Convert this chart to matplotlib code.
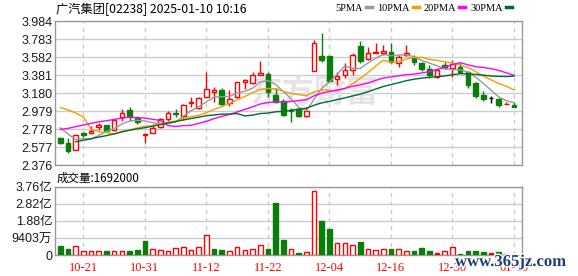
import numpy as np
import pandas as pd
import matplotlib
matplotlib.use("Agg")
import matplotlib.pyplot as plt
import matplotlib.patheffects as pe
from matplotlib.patches import Rectangle
from matplotlib.lines import Line2D

plt.rcParams['font.family'] = ['Liberation Sans', 'Noto Sans CJK SC', 'DejaVu Sans']

# 标题
title = "广汽集团[02238] 2025-01-10 10:16"
vol_title = "成交量:1692000"

# 日K数据 (2024-10-16 .. 2025-01-10)
opens = [2.673, 2.617, 2.539, 2.729, 2.729, 2.797, 2.819, 2.767, 2.909, 2.991,
         2.906, 2.710, 2.729, 2.804, 2.890, 2.961, 2.927, 3.065, 3.009, 3.132,
         3.192, 3.215, 3.065, 3.132, 3.308, 3.289, 3.386, 3.392, 3.159, 3.096,
         2.991, 2.998, 2.927, 3.431, 3.595, 3.595, 3.342, 3.383, 3.439, 3.707,
         3.558, 3.630, 3.625, 3.636, 3.521, 3.603, 3.588, 3.513, 3.446, 3.364,
         3.495, 3.457, 3.476, 3.420, 3.297, 3.159, 3.121, 3.114, 3.055, 3.047]
highs = [2.692, 2.673, 2.718, 2.748, 2.811, 2.841, 2.826, 2.894, 3.002, 3.021,
         2.924, 2.729, 2.830, 2.905, 2.976, 3.006, 3.054, 3.132, 3.140, 3.420,
         3.253, 3.237, 3.215, 3.308, 3.337, 3.420, 3.543, 3.420, 3.236, 3.110,
         3.010, 3.006, 3.021, 3.775, 3.849, 3.595, 3.420, 3.521, 3.633, 3.767,
         3.700, 3.737, 3.718, 3.737, 3.607, 3.718, 3.607, 3.532, 3.495, 3.446,
         3.532, 3.551, 3.521, 3.431, 3.308, 3.207, 3.147, 3.121, 3.084, 3.084]
lows = [2.606, 2.513, 2.539, 2.692, 2.722, 2.767, 2.752, 2.759, 2.868, 2.872,
        2.830, 2.625, 2.729, 2.793, 2.872, 2.916, 2.879, 3.028, 2.998, 3.132,
        3.084, 3.036, 3.039, 3.121, 3.226, 3.278, 3.383, 3.140, 3.073, 2.924,
        2.860, 2.916, 2.916, 3.431, 3.532, 3.308, 3.271, 3.345, 3.383, 3.521,
        3.551, 3.630, 3.607, 3.513, 3.476, 3.595, 3.495, 3.431, 3.345, 3.345,
        3.446, 3.364, 3.409, 3.233, 3.121, 3.096, 3.065, 3.021, 3.055, 3.021]
closes = [2.617, 2.535, 2.711, 2.714, 2.756, 2.819, 2.756, 2.879, 2.961, 2.924,
          2.861, 2.718, 2.785, 2.886, 2.954, 2.946, 3.043, 3.084, 3.121, 3.222,
          3.215, 3.054, 3.110, 3.300, 3.330, 3.383, 3.401, 3.189, 3.084, 2.935,
          2.980, 2.924, 2.983, 3.737, 3.551, 3.319, 3.371, 3.439, 3.607, 3.543,
          3.625, 3.640, 3.651, 3.532, 3.588, 3.633, 3.532, 3.446, 3.383, 3.439,
          3.457, 3.502, 3.420, 3.271, 3.147, 3.110, 3.121, 3.047, 3.058, 3.028]

# 窗口之前的收盘价 (用于均线起点, 由均线位置估计)
pre_close = [2.22, 2.24, 2.25, 2.27, 2.29, 2.31, 2.36, 2.412,
             2.30, 2.32, 2.35, 2.40, 2.45, 2.52, 2.60, 2.66, 2.735,
             2.95,
             2.80, 3.06, 3.16, 4.10, 3.12, 2.88, 3.02, 2.66, 2.78]

# 成交量 (万股)
volumes = [4949, 3299, 4766, 2200, 2200, 2200, 2200, 2200, 2200, 2200,
           2750, 7700, 3116, 2566, 2016, 3666, 4216, 2750, 4400, 10998,
           3299, 2750, 2200, 4216, 2750, 3299, 5316, 3299, 28595, 8249,
           3299, 1283, 1650, 35194, 18697, 14297, 6599, 6599, 5499, 7332,
           3116, 2566, 3116, 3299, 3116, 2200, 2383, 3849, 2383, 1283,
           2200, 4216, 733, 2383, 2383, 1833, 1100, 1650, 550, 169.2]
# g=跌(实心绿) r=涨(空心红) R=实心红
vol_kind = list("ggrrrrgrrg" "ggrrrrrrrr" "ggrrrrrggg" "rgrrggrrrg" "rrrgrrgggR" "rrggggRgRg")

price_ticks = [2.376, 2.577, 2.778, 2.979, 3.180, 3.381, 3.582, 3.783, 3.984]
vol_ticks = [0, 9403, 18806, 28209, 37612]
vol_tick_labels = ["0", "9403万", "1.88亿", "2.82亿", "3.76亿"]
date_idx = [3, 11, 19, 27, 35, 43, 51, 59]
date_labels = ["10-21", "10-31", "11-12", "11-22", "12-04", "12-16", "12-30", "01-10"]

ma_names = ["5PMA", "10PMA", "20PMA", "30PMA"]
ma_windows = [5, 10, 20, 30]
ma_colors = ["#999999", "#f0a000", "#ff00ff", "#006a30"]

RED = "#ff0000"
GREEN = "#0a7d0a"
GRID = "#cccccc"
FRAME = "#999999"

n = len(closes)
x = np.arange(n)
all_close = pd.Series(pre_close + closes)

fig = plt.figure(figsize=(5.78, 2.76), dpi=100)
W, H = 578, 276
ax = fig.add_axes([55 / W, 1 - 165 / H, 467 / W, (165 - 21.3) / H])
axv = fig.add_axes([55 / W, 1 - 255 / H, 467 / W, (255 - 186.7) / H])

for a in (ax, axv):
    a.set_xlim(-0.69, 60.04)
    a.set_axisbelow(True)
    a.set_xticks(date_idx)
    a.grid(axis="y", color=GRID, lw=1, ls="-")
    a.grid(axis="x", color=GRID, lw=1, ls=(0, (3, 3)))
    for s in a.spines.values():
        s.set_color(FRAME)
        s.set_linewidth(1)
    a.tick_params(length=0, pad=2, labelsize=9, colors="#1a1a1a")

# 蜡烛图
w = 0.6
for i in x:
    o, h, l, c = opens[i], highs[i], lows[i], closes[i]
    if c > o:
        col, face = RED, "white"
    elif c < o:
        col, face = GREEN, GREEN
    else:
        col, face = "black", "black"
    ax.vlines(i, l, h, color=col, lw=1, zorder=2)
    if c == o:
        ax.hlines(o, i - w / 2, i + w / 2, color=col, lw=1, zorder=3)
    else:
        ax.add_patch(Rectangle((i - w / 2, min(o, c)), w, abs(c - o),
                               facecolor=face, edgecolor=col, lw=1, zorder=3))

# 均线
for name, win, col in zip(ma_names, ma_windows, ma_colors):
    ma = all_close.rolling(win).mean().to_numpy()[-n:]
    ax.plot(x, ma, color=col, lw=1, zorder=4)

ax.set_ylim(price_ticks[0], price_ticks[-1])
ax.set_yticks(price_ticks)
ax.set_yticklabels([f"{t:.3f}" for t in price_ticks])
ax.tick_params(axis="x", labelbottom=False)

ax.text(0.555, 0.50, "东方财富", transform=ax.transAxes, ha="center", va="center",
        fontsize=23, fontweight="bold", color="#e4e4e4", zorder=1,
        family=["Noto Sans CJK SC"])

# 成交量
faces = [GREEN if k == "g" else (RED if k == "R" else "white") for k in vol_kind]
edges = [GREEN if k == "g" else RED for k in vol_kind]
axv.bar(x, volumes, width=w, color=faces, edgecolor=edges, lw=1, zorder=3)
axv.set_ylim(0, vol_ticks[-1])
axv.set_yticks(vol_ticks)
axv.set_yticklabels(vol_tick_labels)
axv.set_xticklabels(date_labels, color=RED, family="Liberation Serif", fontsize=9)
axv.tick_params(axis="x", pad=5)

# 标题 / 图例
fig.text(56 / W, 1 - 9 / H, title, ha="left", va="center", fontsize=8.8,
         family=["Noto Sans CJK SC"])
fig.text(57 / W, 1 - 178 / H, vol_title, ha="left", va="center", fontsize=8.3,
         family=["Noto Sans CJK SC"])

handles = [Line2D([], [], color=c, lw=2.5) for c in ma_colors]
fig.legend(handles, ma_names, loc="center right", bbox_to_anchor=(512 / W, 1 - 8.5 / H),
           ncol=4, frameon=False, markerfirst=False, handlelength=0.6,
           handletextpad=0.3, columnspacing=0.45, borderpad=0, borderaxespad=0,
           prop={"family": "Liberation Serif", "size": 7.5})

fig.text(455 / W, 1 - 262 / H, "www.365jz.com", ha="left", va="center", fontsize=12,
         fontweight="bold", color="#213c7c", family="Liberation Serif",
         path_effects=[pe.withStroke(linewidth=2, foreground="white")])

fig.savefig("out.png", dpi=100)
